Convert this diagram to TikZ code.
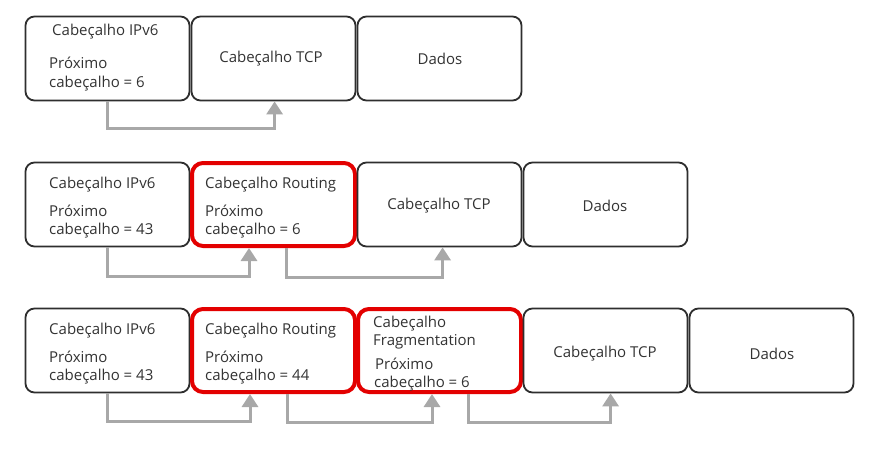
\documentclass[tikz,border=0pt]{standalone}
\usepackage{fontspec}
\setmainfont{Open Sans}
\usetikzlibrary{arrows.meta}
\definecolor{txt}{HTML}{333333}
\definecolor{frame}{HTML}{2E2E2E}
\definecolor{hl}{HTML}{E30000}
\definecolor{conn}{HTML}{A8A8A8}
\begin{document}
\begin{tikzpicture}[x=1pt,y=-1pt,
  every node/.style={font=\fontsize{15}{18}\selectfont, text=txt},
  hdrbox/.style={draw=frame, line width=1.8pt, rounded corners=9pt, minimum width=164pt, minimum height=84pt, inner sep=0pt},
  redbox/.style={draw=hl, line width=4pt, rounded corners=11pt, minimum width=163pt, minimum height=83pt, inner sep=0pt},
  lbl/.style={anchor=base west, inner sep=0pt},
  clbl/.style={anchor=center, inner sep=0pt},
  nextarr/.style={draw=conn, line width=3pt, -{Triangle[width=16pt,length=13pt]}}]
\useasboundingbox[fill=white] (0,0) rectangle (880,466);

% Row 1
\node[hdrbox] (a1) at (107.5,58.5) {};
\node[hdrbox] (a2) at (273.5,58.5) {};
\node[hdrbox] (a3) at (439.5,58.5) {};
\node[lbl] (a1t) at (52,35) {Cabeçalho IPv6};
\node[lbl] (a1p) at (49,68) {Próximo};
\node[lbl] (a1c) at (49,87) {cabeçalho = 6};
\node[clbl] (a2t) at (271,59) {Cabeçalho TCP};
\node[clbl] (a3t) at (440,59) {Dados};
\draw[nextarr] ([xshift=83pt]a1.south west) -- ++(0,27) -| ([xshift=84pt]a2.south west);

% Row 2
\node[hdrbox] (b1) at (107.5,204.5) {};
\node[redbox] (b2) at (273.5,204.5) {};
\node[hdrbox] (b3) at (439.5,204.5) {};
\node[hdrbox] (b4) at (605.5,204.5) {};
\node[lbl] (b1t) at (49,188) {Cabeçalho IPv6};
\node[lbl] (b1p) at (49,216) {Próximo};
\node[lbl] (b1c) at (49,234) {cabeçalho = 43};
\node[lbl] (b2t) at (205,188) {Cabeçalho Routing};
\node[lbl] (b2p) at (205,216) {Próximo};
\node[lbl] (b2c) at (205,234) {cabeçalho = 6};
\node[clbl] (b3t) at (439,206) {Cabeçalho TCP};
\node[clbl] (b4t) at (605,206) {Dados};
\draw[nextarr] ([xshift=83pt]b1.south west) -- ++(0,29) -| ([xshift=59pt]b2.south west);
\draw[nextarr] ([xshift=96pt]b2.south west) -- ++(0,29) -| ([xshift=86pt]b3.south west);

% Row 3
\node[hdrbox] (c1) at (107.5,350.5) {};
\node[redbox] (c2) at (273.5,350.5) {};
\node[redbox] (c3) at (439.5,350.5) {};
\node[hdrbox] (c4) at (605.5,350.5) {};
\node[hdrbox] (c5) at (771.5,350.5) {};
\node[lbl] (c1t) at (49,334) {Cabeçalho IPv6};
\node[lbl] (c1p) at (49,362) {Próximo};
\node[lbl] (c1c) at (49,380) {cabeçalho = 43};
\node[lbl] (c2t) at (205,334) {Cabeçalho Routing};
\node[lbl] (c2p) at (205,362) {Próximo};
\node[lbl] (c2c) at (205,380) {cabeçalho = 44};
\node[lbl] (c3t) at (373,327) {Cabeçalho};
\node[lbl] (c3f) at (373,345) {Fragmentation};
\node[lbl] (c3p) at (375,369) {Próximo};
\node[lbl] (c3c) at (374,387) {cabeçalho = 6};
\node[clbl] (c4t) at (605,354) {Cabeçalho TCP};
\node[clbl] (c5t) at (772,354) {Dados};
\draw[nextarr] ([xshift=83pt]c1.south west) -- ++(0,28) -| ([xshift=60pt]c2.south west);
\draw[nextarr] ([xshift=97pt]c2.south west) -- ++(0,28) -| ([xshift=76pt]c3.south west);
\draw[nextarr] ([xshift=112pt]c3.south west) -- ++(0,28) -| ([xshift=88pt]c4.south west);
\end{tikzpicture}
\end{document}
